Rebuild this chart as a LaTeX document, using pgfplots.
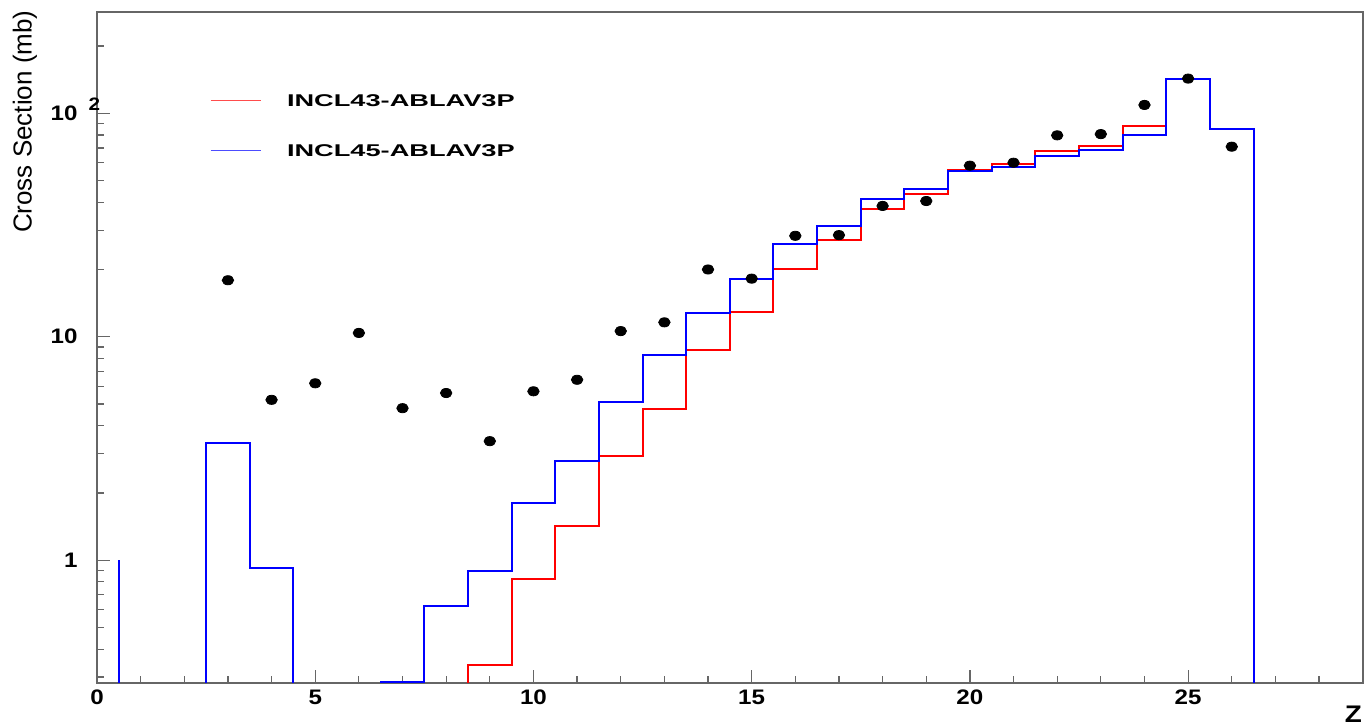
\documentclass[border=0pt]{standalone}
\usepackage{pgfplots}
\pgfplotsset{compat=1.18}
\usepackage{fontspec}
\setmainfont{Liberation Sans}
% widened bold labels in the style of the original plotting program
\newcommand\sx[1]{\scalebox{1.15}[1]{\bfseries\fontsize{10.5}{12}\selectfont #1}}
\newcommand\lx[1]{\scalebox{1.6}[1]{\bfseries\fontsize{8.5}{10}\selectfont #1}}

\begin{document}
\begin{tikzpicture}
\useasboundingbox (-48.5pt,-22.15pt) rectangle (634.5pt,341.35pt);
\begin{axis}[
  at={(0,0)}, anchor=south west,
  scale only axis, width=632.85pt, height=335.35pt,
  xmin=0, xmax=29,
  ymode=log, ymin=0.283, ymax=284,
  axis line style={black!60, line width=1pt},
  tick style={black!60, line width=0.6pt},
  tick align=inside,
  xtick pos=left, ytick pos=left,
  major tick length=6.5pt, minor tick length=3.5pt,
  xtick={0,5,10,15,20,25},
  xticklabels={\sx{0},\sx{5},\sx{10},\sx{15},\sx{20},\sx{25}},
  minor xtick={1,2,3,4,6,7,8,9,11,12,13,14,16,17,18,19,21,22,23,24,26,27,28},
  ytick={1,10,100},
  yticklabels={\sx{1},\sx{10},{\sx{10}\rlap{\hspace{5.5pt}\raisebox{5pt}[0pt][0pt]{\scalebox{1.15}[1]{\bfseries\fontsize{9}{10}\selectfont 2}}}}},
  minor ytick={0.3,0.4,0.5,0.6,0.7,0.8,0.9,2,3,4,5,6,7,8,9,20,30,40,50,60,70,80,90,200},
  xticklabel style={inner sep=0pt, yshift=-3.6pt},
  yticklabel style={inner sep=0pt, xshift=-9.5pt},
  xlabel={\scalebox{1.16}[1]{\bfseries\fontsize{12}{14}\selectfont Z}},
  xlabel style={at={(axis description cs:0.9927,-0.0474)}, anchor=center, inner sep=0pt},
  ylabel={\fontsize{13}{15}\selectfont Cross Section (mb)},
  ylabel style={at={(axis description cs:-0.0569,1.003)}, anchor=east, inner sep=0pt},
  legend style={draw=none, fill=none, inner sep=0pt, outer sep=0pt,
    at={(axis description cs:0.0893,0.8305)}, anchor=west,
    row sep=18.8pt,
    nodes={inner sep=0pt, text height=6.2pt, text depth=0pt},
    /tikz/every odd column/.append style={column sep=13pt}},
  legend cell align=left,
  legend image code/.code={\draw[#1, line width=0.5pt, opacity=0.7] (0pt,0pt) -- (25pt,0pt);},
]

% INCL43-ABLAV3P, bin left edges and contents
\addplot[const plot, red, line width=1pt] coordinates {
  (8.5,0.001) (8.5,0.341) (9.5,0.826) (10.5,1.42) (11.5,2.93) (12.5,4.77)
  (13.5,8.73) (14.5,12.9) (15.5,20.2) (16.5,27.0) (17.5,37.2) (18.5,43.5)
  (19.5,55.6) (20.5,59.1) (21.5,67.8) (22.5,71.6) (23.5,87.7) (24.5,142)
  (25.5,84.8) (26.5,84.8) (26.5,0.001)
};
\addlegendentry{\lx{INCL43-ABLAV3P}}

% INCL45-ABLAV3P, bin left edges and contents
\addplot[const plot, blue, line width=1pt] coordinates {
  (0.5,1) (0.5,0.001) (2.5,3.36) (3.5,0.92) (4.5,0.001) (6.5,0.284)
  (7.5,0.624) (8.5,0.895) (9.5,1.81) (10.5,2.78) (11.5,5.08) (12.5,8.26)
  (13.5,12.8) (14.5,18.1) (15.5,26.0) (16.5,31.2) (17.5,41.2) (18.5,45.7)
  (19.5,55.3) (20.5,57.3) (21.5,64.6) (22.5,68.5) (23.5,80.2) (24.5,142)
  (25.5,84.8) (26.5,84.8) (26.5,0.001)
};
\addlegendentry{\lx{INCL45-ABLAV3P}}

% measured cross sections
\addplot[only marks, mark=*, mark size=2.3pt, black, mark options={xscale=1.25}, forget plot] coordinates {
  (3,17.9) (4,5.22) (5,6.19) (6,10.4) (7,4.79) (8,5.6) (9,3.41) (10,5.70)
  (11,6.42) (12,10.6) (13,11.6) (14,20.0) (15,18.2) (16,28.3) (17,28.5)
  (18,38.5) (19,40.5) (20,58.3) (21,60.1) (22,79.7) (23,80.7) (24,109)
  (25,143) (26,70.9)
};
\end{axis}
\end{tikzpicture}
\end{document}
